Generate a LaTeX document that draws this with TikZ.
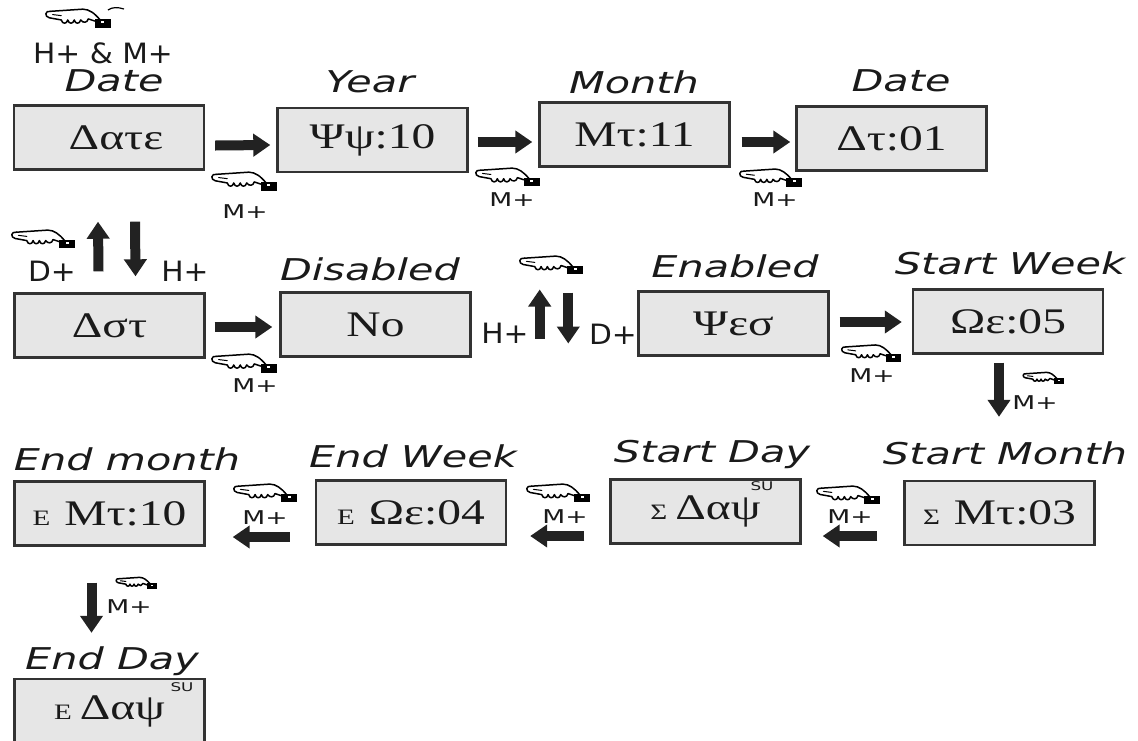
\documentclass[tikz,border=0pt]{standalone}
\usepackage{fontspec}
\usetikzlibrary{arrows.meta,calc}
\newfontfamily\labfont[FakeStretch=1.38]{DejaVu Sans}
\newfontfamily\keyfont[FakeStretch=1.4]{DejaVu Sans}
\newfontfamily\plainfont[FakeStretch=1.06]{DejaVu Sans}
\newfontfamily\lcdfont[FakeStretch=1.32]{Liberation Serif}
\definecolor{boxfill}{HTML}{E6E6E6}
\definecolor{boxline}{HTML}{333333}
\definecolor{arr}{HTML}{222222}
\definecolor{txt}{HTML}{1A1A1A}
\tikzset{
  lcd/.style={draw=boxline, line width=2.4pt, fill=boxfill, minimum width=190pt,
    minimum height=64pt, inner sep=0pt, text=txt, font=\lcdfont\fontsize{36}{36}\selectfont},
  ttl/.style={font=\labfont\itshape\fontsize{30}{30}\selectfont, inner sep=0pt, anchor=base, text=txt},
  key/.style={font=\keyfont\fontsize{19}{19}\selectfont, inner sep=0pt, anchor=base, text=txt},
  btn/.style={font=\plainfont\fontsize{28}{28}\selectfont, inner sep=0pt, anchor=base, text=txt},
  sux/.style={font=\keyfont\fontsize{12}{12}\selectfont, inner sep=0pt, anchor=base, text=txt},
  barr/.style={line width=10pt, draw=arr, -{Triangle[length=17pt,width=22pt]}},
  pics/hand/.style={code={
    \draw[line width=1.5pt, line cap=round, line join=round]
      (6,4) .. controls (1,3) and (0,9) .. (5,10) -- (16,12)
      .. controls (17,16) and (21,16) .. (22,12) .. controls (23,16) and (27,16) .. (28,12)
      .. controls (29,16) and (33,16) .. (34,12) .. controls (36,15) and (40,15) .. (41,11) -- (47,13);
    \draw[line width=1.5pt, line cap=round, line join=round]
      (6,4) -- (36,2) .. controls (42,2) and (47,6) .. (52,12);
    \draw[line width=1pt, line cap=round] (8,7) -- (16,8);
    \fill (47,11) rectangle (62,19);
    \fill[white] (53,13) rectangle (56,15);
  }}
}
\newcommand{\pre}[1]{{\lcdfont\fontsize{22}{22}\selectfont #1}}
\begin{document}
\begin{tikzpicture}[x=1pt, y=-1pt]
\useasboundingbox (0,0) rectangle (1138,740);
% boxes
\node[lcd] (dateA) at (109,137.5) {\hspace{14pt}Δατε};
\node[lcd] (year) at (372.5,140) {Ψψ:10};
\node[lcd] (month) at (634.5,134.5) {Mτ:11};
\node[lcd] (dateB) at (891.5,138.5) {Δτ:01};
\node[lcd] (dst) at (109.5,325.5) {Δστ};
\node[lcd] (no) at (375.5,324.5) {No};
\node[lcd] (yes) at (733.5,323.5) {Ψεσ};
\node[lcd] (sw) at (1008,321.5) {Ωε:05};
\node[lcd] (em) at (109.5,513.5) {\pre{E}\hspace{14pt}Mτ:10};
\node[lcd] (ew) at (411,512.5) {\pre{E}\hspace{14pt}Ωε:04};
\node[lcd] (sd) at (705.5,511.5) {\pre{Σ}\hspace{8pt}Δαψ\hspace{46pt}};
\node[lcd] (smo) at (999.5,513) {\pre{Σ}\hspace{14pt}Mτ:03};
\node[lcd] (ed) at (109.5,711) {\pre{E}\hspace{8pt}Δαψ\hspace{46pt}};
\node[sux] (su1) at (762,490) {SU};
\node[sux] (su2) at (182,691) {SU};
% titles
\node[btn] (hm) at (103,63) {H+ \& M+};
\node[ttl] (t1) at (114,91) {Date};
\node[ttl] (t2) at (370,92) {Year};
\node[ttl] (t3) at (634,93) {Month};
\node[ttl] (t4) at (901,91) {Date};
\node[ttl] (t5) at (370,280) {Disabled};
\node[ttl] (t6) at (735,277) {Enabled};
\node[ttl] (t7) at (1010,274) {Start Week};
\node[ttl] (t8) at (1005,464) {Start Month};
\node[ttl] (t9) at (712,462) {Start Day};
\node[ttl] (t10) at (413,467) {End Week};
\node[ttl] (t11) at (127,470) {End month};
\node[ttl] (t12) at (112,669) {End Day};
% side keys
\node[btn] (d1) at (52,281) {D+};
\node[btn] (h1) at (185,281) {H+};
\node[btn] (h2) at (505,343) {H+};
\node[btn] (d2) at (613,344) {D+};
% key labels
\node[key] (m1) at (245,218) {M+};
\node[key] (m2) at (512,206) {M+};
\node[key] (m3) at (775,206) {M+};
\node[key] (m4) at (255,392) {M+};
\node[key] (m5) at (872,382) {M+};
\node[key] (m6) at (1035,409) {M+};
\node[key] (m7) at (265,524) {M+};
\node[key] (m8) at (565,523) {M+};
\node[key] (m9) at (850,523) {M+};
\node[key] (m10) at (129,613) {M+};
% hands
\pic[scale=1.08] at (44,7) {hand};
\draw[line width=1.2pt] (108,10) .. controls (112,7) and (118,7) .. (124,9);
\pic[scale=1.08] at (210,170) {hand};
\pic[scale=1.06] at (474,166) {hand};
\pic[scale=1.03] at (738,167) {hand};
\pic[scale=1.05] at (10,228) {hand};
\pic[scale=1.08] at (210,352) {hand};
\pic[scale=1.05] at (518,254) {hand};
\pic[scale=0.98] at (840,343) {hand};
\pic[scale=0.68] at (1022,371) {hand};
\pic[scale=1.05] at (232,482) {hand};
\pic[scale=1.05] at (525,482) {hand};
\pic[scale=1.05] at (815,484) {hand};
\pic[scale=0.68] at (115,576) {hand};
% arrows
\draw[barr] ($(dateA.east)+(10,8)$) -- ($(year.west)+(-6,5)$);
\draw[barr] ($(year.east)+(9,2)$) -- ($(month.west)+(-6,7.5)$);
\draw[barr] ($(month.east)+(11,7.5)$) -- ($(dateB.west)+(-5,3.5)$);
\draw[barr] ($(dst.north)+(-11,-21)$) -- ($(dateA.south)+(-11,51)$);
\draw[barr] ($(dateA.south)+(26,51)$) -- ($(dst.north)+(26,-16)$);
\draw[barr] ($(dst.east)+(9,1.5)$) -- ($(no.west)+(-7,2.5)$);
\draw[barr] ($(no.east)+(68,14)$) -- ($(no.east)+(68,-35)$);
\draw[barr] ($(yes.west)+(-69,-31)$) -- ($(yes.west)+(-69,20)$);
\draw[barr] ($(yes.east)+(10,-1.5)$) -- ($(sw.west)+(-10,0.5)$);
\draw[barr] ($(sw.south)+(-9,8)$) -- ($(smo.north)+(-0.5,-63)$);
\draw[barr] ($(smo.west)+(-26,23)$) -- ($(sd.east)+(21,24.5)$);
\draw[barr] ($(sd.west)+(-25,24.5)$) -- ($(ew.east)+(23,23.5)$);
\draw[barr] ($(ew.west)+(-25,24.5)$) -- ($(em.east)+(27,23.5)$);
\draw[barr] ($(em.south)+(-18,36)$) -- ($(ed.north)+(-18,-45)$);
\end{tikzpicture}
\end{document}
